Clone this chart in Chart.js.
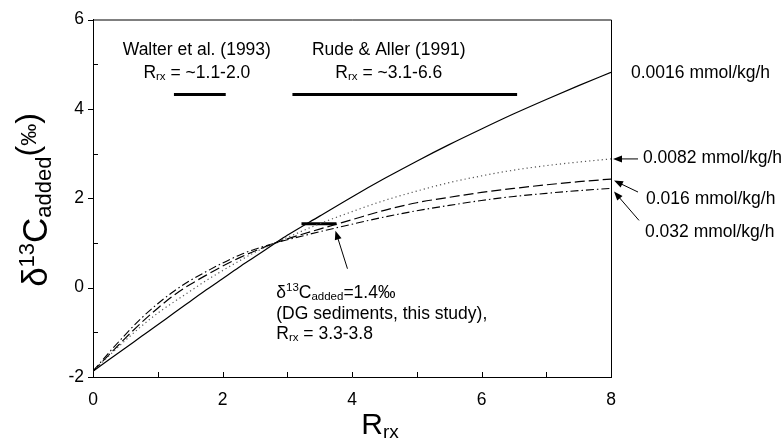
<!DOCTYPE html>
<html><head><meta charset="utf-8">
<script src="https://cdn.jsdelivr.net/npm/chart.js@4/dist/chart.umd.min.js"></script>
<style>html,body{margin:0;padding:0;background:#fff;}#wrap{width:783px;height:445px;}</style>
</head><body><div id="wrap"><canvas id="c" width="783" height="445"></canvas></div>
<script>
// ---- data ----
const xValues   = [0,0.25,0.5,0.75,1,1.25,1.5,1.75,2,2.25,2.5,2.8,3,3.5,4,4.5,5,5.5,6,6.5,7,7.5,8];
const rate0016  = [-1.87,-1.61,-1.35,-1.09,-0.83,-0.57,-0.31,-0.05,0.20,0.45,0.69,0.98,1.17,1.60,2.03,2.44,2.83,3.20,3.55,3.89,4.21,4.52,4.82];
const rate0082  = [-1.87,-1.52,-1.18,-0.86,-0.57,-0.32,-0.08,0.16,0.38,0.59,0.79,0.99,1.12,1.43,1.70,1.95,2.16,2.35,2.50,2.63,2.73,2.81,2.88];
const rate016   = [-1.87,-1.50,-1.13,-0.78,-0.46,-0.17,0.07,0.28,0.48,0.66,0.82,0.99,1.09,1.31,1.52,1.73,1.90,2.02,2.13,2.22,2.30,2.37,2.43];
const rate032   = [-1.87,-1.45,-1.05,-0.68,-0.36,-0.08,0.16,0.36,0.55,0.72,0.86,0.99,1.07,1.25,1.42,1.58,1.72,1.84,1.95,2.04,2.11,2.17,2.22];
const seriesLabels = ["0.0016 mmol/kg/h","0.0082 mmol/kg/h","0.016 mmol/kg/h","0.032 mmol/kg/h"];
const walterRange = [1.25, 2.05];
const rudeRange   = [3.08, 6.55];
const rangeBarY   = 4.32;
const dgRange     = [3.22, 3.76];
const dgValue     = 1.43;
const xTicks = [0,2,4,6,8];
const yTicks = [-2,0,2,4,6];

const FONT = '"Liberation Sans", Arial, sans-serif';

function line(label, ys, color, dash, width){
  return {label, data: xValues.map((x,i)=>({x, y: ys[i]})), borderColor: color, borderDash: dash,
    borderWidth: width, pointRadius: 0, fill: false, cubicInterpolationMode: 'monotone'};
}
function bar(label, range, y){
  return {label, data: range.map(x=>({x, y})), borderColor: '#000', borderWidth: 3,
    pointRadius: 0, fill: false, borderCapStyle: 'butt'};
}

function rich(ctx, parts, x, y, align){
  let w = 0;
  parts.forEach(p=>{ ctx.font = p[1]+'px '+FONT; w += ctx.measureText(p[0]).width; });
  let cx = align==='center' ? x - w/2 : (align==='right' ? x - w : x);
  ctx.textAlign = 'left'; ctx.textBaseline = 'alphabetic'; ctx.fillStyle = '#000';
  parts.forEach(p=>{ ctx.font = p[1]+'px '+FONT; ctx.fillText(p[0], cx, y + (p[2]||0)); cx += ctx.measureText(p[0]).width; });
}
function arrow(ctx, x1, y1, x2, y2){
  const a = Math.atan2(y2-y1, x2-x1), L = 9, W = 3.5;
  ctx.strokeStyle = '#000'; ctx.fillStyle = '#000'; ctx.lineWidth = 1; ctx.setLineDash([]);
  ctx.beginPath(); ctx.moveTo(x1,y1); ctx.lineTo(x2 - L*0.8*Math.cos(a), y2 - L*0.8*Math.sin(a)); ctx.stroke();
  ctx.beginPath(); ctx.moveTo(x2,y2);
  ctx.lineTo(x2 - L*Math.cos(a) + W*Math.sin(a), y2 - L*Math.sin(a) - W*Math.cos(a));
  ctx.lineTo(x2 - L*Math.cos(a) - W*Math.sin(a), y2 - L*Math.sin(a) + W*Math.cos(a));
  ctx.closePath(); ctx.fill();
}

const deco = {
  id: 'deco',
  afterDraw(chart){
    const ctx = chart.ctx, ca = chart.chartArea, xs = chart.scales.x, ys = chart.scales.y;
    ctx.save();
    // frame top/right
    ctx.strokeStyle = '#000'; ctx.lineWidth = 1; ctx.setLineDash([]);
    ctx.beginPath(); ctx.moveTo(ca.left, ca.top+0.5); ctx.lineTo(ca.right+0.5, ca.top+0.5); ctx.lineTo(ca.right+0.5, ca.bottom); ctx.stroke();
    // ticks
    ctx.beginPath();
    for (let v=-2; v<=6; v++){
      const py = Math.round(ys.getPixelForValue(v))+0.5;
      if (v%2===0){ ctx.moveTo(ca.left-5, py); ctx.lineTo(ca.left, py); }
      else { ctx.moveTo(ca.left, py); ctx.lineTo(ca.left+5, py); }
    }
    for (let v=1; v<8; v++){
      const px = Math.round(xs.getPixelForValue(v))+0.5;
      ctx.moveTo(px, ca.bottom); ctx.lineTo(px, ca.bottom-5);
    }
    ctx.stroke();
    // top references
    const wx = xs.getPixelForValue((walterRange[0]+walterRange[1])/2) - 3;
    const rx = xs.getPixelForValue((rudeRange[0]+rudeRange[1])/2) - 16;
    rich(ctx, [["Walter et al. (1993)",17.5]], wx, 55, 'center');
    rich(ctx, [["R",17.5],["rx",11.5,2],[" = ~1.1-2.0",17.5]], wx, 78, 'center');
    rich(ctx, [["Rude & Aller (1991)",17.5]], rx, 55, 'center');
    rich(ctx, [["R",17.5],["rx",11.5,2],[" = ~3.1-6.6",17.5]], rx, 78, 'center');
    // right labels
    const ex = xs.getPixelForValue(8);
    rich(ctx, [[seriesLabels[0],17.5]], ex+20, ys.getPixelForValue(rate0016[rate0016.length-1])+6);
    const t2 = ys.getPixelForValue(rate0082[rate0082.length-1]);
    arrow(ctx, ex+27, t2, ex+2, t2);
    rich(ctx, [[seriesLabels[1],17.5]], ex+32, t2+4.5);
    const t3 = ys.getPixelForValue(rate016[rate016.length-1]);
    arrow(ctx, ex+27, t3+13, ex+3, t3+1.5);
    rich(ctx, [[seriesLabels[2],17.5]], ex+35, t3+24.5);
    const t4 = ys.getPixelForValue(rate032[rate032.length-1]);
    arrow(ctx, ex+28, t4+32, ex+3, t4+3);
    rich(ctx, [[seriesLabels[3],17.5]], ex+34, t4+49);
    // DG annotation
    const tipX = xs.getPixelForValue(dgRange[1]) - 1, tipY = ys.getPixelForValue(dgValue) + 7;
    arrow(ctx, tipX+12, tipY+38, tipX, tipY);
    const lx = xs.getPixelForValue(2.83);
    rich(ctx, [["δ",17.5],["13",11.5,-7],["C",17.5],["added",11.5,2],["=1.4‰",17.5]], lx, 298);
    rich(ctx, [["(DG sediments, this study),",17.5]], lx, 318.5);
    rich(ctx, [["R",17.5],["rx",11.5,2],[" = 3.3-3.8",17.5]], lx, 339);
    // axis titles
    rich(ctx, [["R",30],["rx",19,4]], 380, 434, 'center');
    ctx.save();
    ctx.translate(47, 200); ctx.rotate(-Math.PI/2);
    rich(ctx, [["δ",35],["13",22,-13],["C",35],["added",22,4],["(",32,-9],["‰",22,-11],[")",32,-9]], 0, 0, 'center');
    ctx.restore();
    ctx.restore();
  }
};

new Chart(document.getElementById('c'), {
  type: 'line',
  data: { datasets: [
    line(seriesLabels[0], rate0016, '#000', [], 1.2),
    line(seriesLabels[1], rate0082, '#555', [1.2,3], 1.2),
    line(seriesLabels[2], rate016, '#000', [10,4], 1.2),
    line(seriesLabels[3], rate032, '#000', [8,3,1.5,3], 1.1),
    bar('Walter et al. (1993)', walterRange, rangeBarY),
    bar('Rude & Aller (1991)', rudeRange, rangeBarY),
    bar('DG sediments', dgRange, dgValue)
  ]},
  options: {
    responsive: false, animation: false, devicePixelRatio: 1,
    layout: { padding: { top: 15, right: 172, left: 0, bottom: 0 } },
    plugins: { legend: { display: false }, tooltip: { enabled: false } },
    scales: {
      x: { type: 'linear', min: 0, max: 8,
        afterBuildTicks: s => { s.ticks = xTicks.map(v=>({value:v})); },
        afterFit: s => { s.height = 68; },
        ticks: { font: { size: 17.5, family: FONT }, color: '#000', padding: 13, maxRotation: 0 },
        grid: { display: false, drawTicks: false },
        border: { display: true, color: '#000', width: 1 } },
      y: { min: -2, max: 6,
        afterBuildTicks: s => { s.ticks = yTicks.map(v=>({value:v})); },
        afterFit: s => { s.width = 93; },
        ticks: { font: { size: 17.5, family: FONT }, color: '#000', padding: 9 },
        grid: { display: false, drawTicks: false },
        border: { display: true, color: '#000', width: 1 } }
    }
  },
  plugins: [deco]
});
</script></body></html>
